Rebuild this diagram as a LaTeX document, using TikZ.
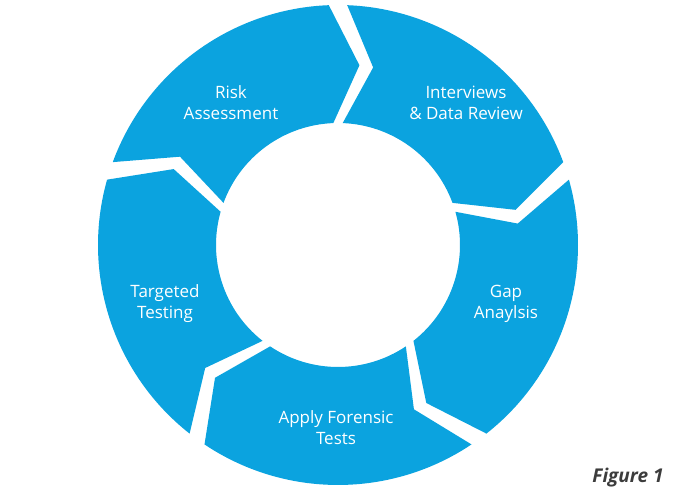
\documentclass[tikz,border=0pt]{standalone}
\usepackage{fontspec}
\setmainfont{Open Sans}
\definecolor{ringblue}{HTML}{0BA3DF}
\definecolor{figgray}{HTML}{3C3C3C}
\begin{document}
\begin{tikzpicture}[x=1pt,y=1pt,
  seglabel/.style={text=white,font=\fontsize{17}{21}\selectfont,align=center},
  segfill/.style={fill=ringblue,draw=none}]
\useasboundingbox (0,0) rectangle (675,500);
\def\R{240}\def\r{122}\def\m{181}\def\g{2.2}\def\t{9}
\newcommand{\segment}[2]{%
  \pgfmathsetmacro{\aa}{#1-\g}\pgfmathsetmacro{\bb}{#2+\g}%
  \pgfmathsetmacro{\at}{#1-\g-\t}\pgfmathsetmacro{\bt}{#2+\g-\t}%
  \fill[segfill] (\aa:\R) arc[start angle=\aa,end angle=\bb,radius=\R]
    -- (\bt:\m) -- (\bb:\r) arc[start angle=\bb,end angle=\aa,radius=\r]
    -- (\at:\m) -- cycle;}
\begin{scope}[shift={(338,255)}]
\segment{162}{90}
\segment{90}{18}
\segment{18}{-54}
\segment{-54}{-126}
\segment{-126}{-198}
\end{scope}
\node[seglabel] (risk) at (231,397) {Risk\\Assessment};
\node[seglabel] (interviews) at (466,397) {Interviews\\\& Data Review};
\node[seglabel] (gap) at (506,196) {Gap\\Anaylsis};
\node[seglabel] (apply) at (336,72) {Apply Forensic\\Tests};
\node[seglabel] (targeted) at (165,196) {Targeted\\Testing};
\node[text=figgray,font=\fontsize{19}{22}\selectfont\bfseries\itshape] (fig) at (628,22) {Figure 1};
\end{tikzpicture}
\end{document}
